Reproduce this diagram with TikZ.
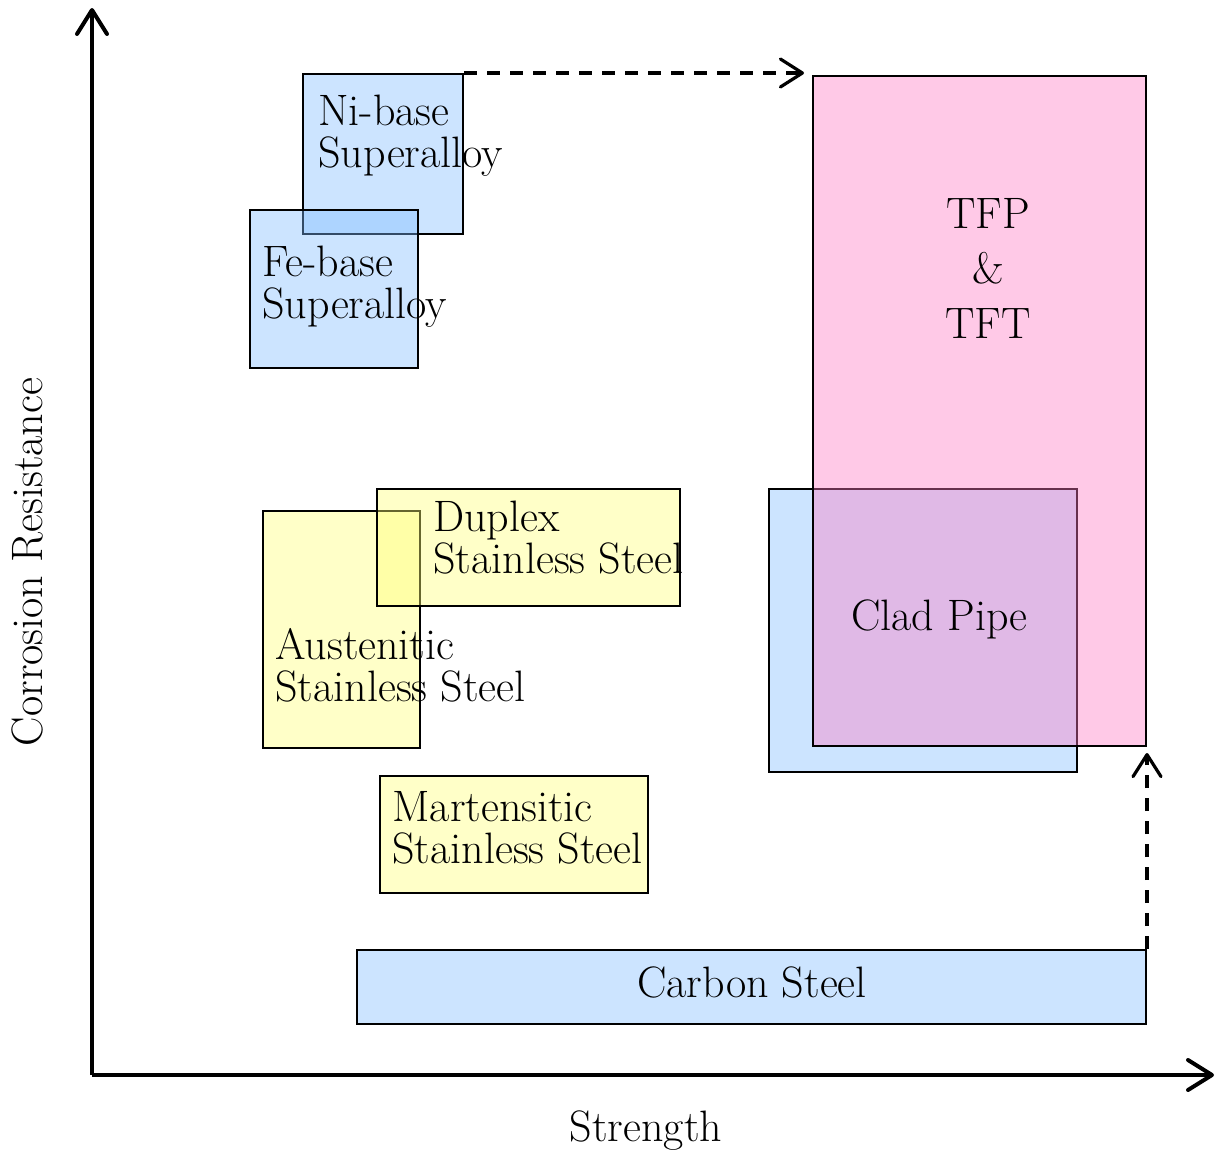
\documentclass[tikz,border=0pt]{standalone}
\usepackage{fontspec}
\usepackage{tikz}
\usetikzlibrary{arrows.meta, fit}
\definecolor{alloyblue}{RGB}{127,187,255}
\definecolor{steelyellow}{RGB}{255,255,117}
\definecolor{pipepink}{RGB}{255,120,194}
\newcommand{\lblfont}{\fontsize{22}{21}\selectfont}
\tikzstyle{box} = [rectangle, draw=black, line width=1pt, inner sep=0pt, fill opacity=0.4]
\tikzstyle{bluebox} = [box, fill=alloyblue]
\tikzstyle{yellowbox} = [box, fill=steelyellow]
\tikzstyle{pinkbox} = [box, fill=pipepink]
\tikzstyle{lbl} = [inner sep=0pt, align=left, font=\lblfont]
\tikzstyle{axis} = [line width=2pt, -{Straight Barb[length=12pt, width=15pt, round]}]
\tikzstyle{dasharrow} = [line width=1.6pt, dash pattern=on 6.5pt off 5pt,
    -{Straight Barb[length=11pt, width=14pt, round]}]

\begin{document}
\begin{tikzpicture}[x=0.5pt, y=-0.5pt]
        \useasboundingbox (0,0) rectangle (1220,1151);

        \coordinate (origin) at (92,1075);
        \draw [axis] (origin) -- (92,8) coordinate (ytop);
        \draw [axis] (origin) -- (1214,1075) coordinate (xend);

        \node (ni) [bluebox, fit={(303,74) (463,234)}] {};
        \node (fe) [bluebox, fit={(250,210) (418,368)}] {};
        \node (aus) [yellowbox, fit={(263,511) (420,748)}] {};
        \node (duplex) [yellowbox, fit={(377,489) (680,606)}] {};
        \node (mart) [yellowbox, fit={(380,776) (648,893)}] {};
        \node (carbon) [bluebox, fit={(357,950) (1146,1024)}] {};
        \node (clad) [bluebox, fit={(769,489) (1077,772)}] {};
        \node (tfp) [pinkbox, fit={(813,76) (1146,746)}] {};

        \node (nitext) [lbl, anchor=base west] at (318,167) {Ni-base\\Superalloy};
        \node (fetext) [lbl, anchor=base west] at (262,318) {Fe-base\\Superalloy};
        \node (duplextext) [lbl, anchor=base west] at (433,573) {Duplex\\Stainless Steel};
        \node (austext) [lbl, anchor=base west] at (275,701) {Austenitic\\Stainless Steel};
        \node (marttext) [lbl, anchor=base west] at (392,863) {Martensitic\\Stainless Steel};
        \node (carbontext) [lbl, anchor=base] at (752,997) {Carbon Steel};
        \node (cladtext) [lbl, anchor=base] at (939.5,630) {Clad Pipe};
        \node (tfptext) [lbl, align=center, anchor=base] at (988,338)
            {TFP\\[6.5pt]\&\\[6.5pt]TFT};

        \node (xlabel) [lbl, anchor=base] at (646,1141) {Strength};
        \node (ylabel) [lbl, rotate=90, anchor=base] at (42,562) {Corrosion Resistance};

        \draw [dasharrow, shorten >=4pt] (ni.north east) -- (ni.north east -| tfp.west);
        \draw [dasharrow, shorten >=3pt] (carbon.north east) -- (tfp.south east);
    \end{tikzpicture}
\end{document}
